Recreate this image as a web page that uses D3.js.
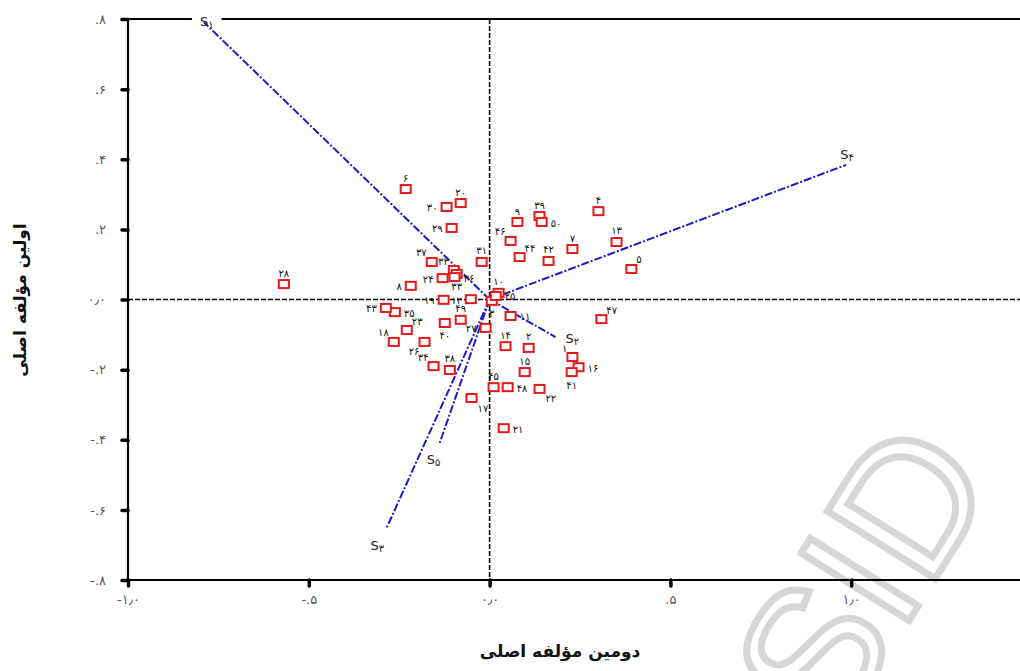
<!DOCTYPE html>
<html>
<head>
<meta charset="utf-8">
<script src="https://cdn.jsdelivr.net/npm/d3@7"></script>
<style>
body { margin: 0; background: #fff; }
text { direction: ltr; }
</style>
</head>
<body>
<div id="chart"></div>
<script>
// case labels (1..50) and their scores on the two components
var caseLabels = ['۱','۲','۳','۴','۵','۶','۷','۸','۹','۱۰',
                  '۱۱','۱۲','۱۳','۱۴','۱۵','۱۶','۱۷','۱۸','۱۹','۲۰',
                  '۲۱','۲۲','۲۳','۲۴','۲۵','۲۶','۲۷','۲۸','۲۹','۳۰',
                  '۳۱','۳۲','۳۳','۳۴','۳۵','۳۶','۳۷','۳۸','۳۹','۴۰',
                  '۴۱','۴۲','۴۳','۴۴','۴۵','۴۶','۴۷','۴۸','۴۹','۵۰'];
// second component (x)
var comp2 = [0.229, 0.108, 0.006, 0.301, 0.392, -0.232, 0.229, -0.218, 0.077, 0.025,
             0.058, -0.052, 0.351, 0.044, 0.097, 0.246, -0.050, -0.265, -0.127, -0.080,
             0.039, 0.138, -0.229, -0.130, 0.017, -0.180, -0.011, -0.569, -0.105, -0.119,
             -0.022, -0.099, -0.091, -0.155, -0.262, -0.097, -0.160, -0.110, 0.138, -0.124,
             0.227, 0.163, -0.287, 0.083, 0.011, 0.058, 0.309, 0.050, -0.080, 0.144];
// first component (y)
var comp1 = [-0.164, -0.138, -0.004, 0.252, 0.087, 0.315, 0.144, 0.039, 0.221, 0.019,
             -0.047, 0.001, 0.164, -0.133, -0.207, -0.193, -0.281, -0.121, -0.001, 0.275,
             -0.367, -0.255, -0.087, 0.061, 0.010, -0.121, -0.081, 0.044, 0.204, 0.264,
             0.107, 0.084, 0.073, -0.190, -0.036, 0.064, 0.107, -0.201, 0.238, -0.067,
             -0.207, 0.110, -0.024, 0.121, -0.250, 0.167, -0.056, -0.250, -0.058, 0.221];
// where each case label sits around its square
var labelPos = ['nw','n','s','n','ne','n','n','w','n','n',
                'e','w','n','n','n','e','se','nw','w','n',
                'e','se','ne','w','e','sw','w','n','w','w',
                'n','nw','s','nw','e','e','nw','n','n','s',
                's','n','w','ne','n','nw','ne','e','n','e'];

// variable loadings
var varNames = ['۱','۲','۳','۴','۵'];
var varComp2 = [-0.790, 0.182, -0.285, 0.986, -0.138];
var varComp1 = [0.791, -0.107, -0.652, 0.384, -0.409];
var varLabelDx = [-4, 10, -16, -6, -13];
var varLabelDy = [4, 6, 22, -6, 21];

var xTicks = [-1, -0.5, 0, 0.5, 1, 1.5];
var xTickLabels = ['-۱٫۰', '-.۵', '۰٫۰', '.۵', '۱٫۰', '۱٫۵'];
var yTicks = [0.8, 0.6, 0.4, 0.2, 0, -0.2, -0.4, -0.6, -0.8];
var yTickLabels = ['.۸', '.۶', '.۴', '.۲', '۰٫۰', '-.۲', '-.۴', '-.۶', '-.۸'];

var width = 1020, height = 671;

var svg = d3.select('#chart')
    .append('svg')
    .attr('width', width)
    .attr('height', height)
    .style('font-family', 'DejaVu Sans, sans-serif');

var x = d3.scaleLinear().domain([-1, 1.5]).range([128, 1032]);
var y = d3.scaleLinear().domain([-0.8, 0.8]).range([580, 19]);

// watermark behind everything
svg.append('text')
    .attr('transform', 'translate(862,575) rotate(-58)')
    .attr('text-anchor', 'middle')
    .attr('dominant-baseline', 'central')
    .style('font-family', 'Liberation Sans, sans-serif')
    .style('font-size', '185px')
    .attr('fill', '#fff')
    .attr('stroke', '#d6d6d6')
    .attr('stroke-width', 7)
    .text('SID');

// dashed reference lines through zero
svg.append('line')
    .attr('x1', x(-1)).attr('x2', width)
    .attr('y1', y(0)).attr('y2', y(0))
    .attr('stroke', '#000').attr('stroke-width', 1.6)
    .attr('stroke-dasharray', '5,2');
svg.append('line')
    .attr('x1', x(0)).attr('x2', x(0))
    .attr('y1', y(0.8)).attr('y2', y(-0.8))
    .attr('stroke', '#000').attr('stroke-width', 1.6)
    .attr('stroke-dasharray', '5,2');

// top frame line
svg.append('line')
    .attr('x1', x(-1)).attr('x2', width)
    .attr('y1', y(0.8)).attr('y2', y(0.8))
    .attr('stroke', '#000').attr('stroke-width', 2);

// loading vectors
var vecs = varNames.map(function(d, i) {
    return {name: d, x: varComp2[i], y: varComp1[i], dx: varLabelDx[i], dy: varLabelDy[i]};
});

svg.selectAll('.vec')
    .data(vecs)
    .enter()
    .append('line')
    .attr('class', 'vec')
    .attr('x1', x(0)).attr('y1', y(0))
    .attr('x2', function(d) { return x(d.x); })
    .attr('y2', function(d) { return y(d.y); })
    .attr('stroke', '#1a1ac8')
    .attr('stroke-width', 2)
    .attr('stroke-dasharray', '8,2,2,2');

var vlab = svg.selectAll('.vlab')
    .data(vecs)
    .enter()
    .append('text')
    .attr('class', 'vlab')
    .attr('x', function(d) { return x(d.x) + d.dx; })
    .attr('y', function(d) { return y(d.y) + d.dy; })
    .style('font-size', '13px')
    .attr('fill', '#222');
vlab.each(function(d) {
    d3.select(this).append('tspan').text('S');
    d3.select(this).append('tspan').attr('dy', 2).style('font-size', '10px').text(d.name);
});
// clear the frame line behind the S1 label
vlab.filter(function(d, i) { return i === 0; }).each(function() {
    var b = this.getBBox();
    svg.insert('rect', '.vec')
        .attr('x', b.x - 8).attr('y', b.y - 2)
        .attr('width', b.width + 16).attr('height', b.height + 2)
        .attr('fill', '#fff');
});

// case points
var pts = caseLabels.map(function(d, i) {
    return {label: d, x: comp2[i], y: comp1[i], pos: labelPos[i]};
});

svg.selectAll('.pt')
    .data(pts)
    .enter()
    .append('rect')
    .attr('class', 'pt')
    .attr('x', function(d) { return x(d.x) - 5; })
    .attr('y', function(d) { return y(d.y) - 4; })
    .attr('width', 10)
    .attr('height', 8)
    .attr('fill', '#fff')
    .attr('stroke', '#e21a1a')
    .attr('stroke-width', 2);

var off = {
    n:  [0, -11, 'middle'], s: [0, 13, 'middle'],
    w:  [-9, 1, 'end'],     e: [9, 1, 'start'],
    nw: [-5, -9, 'end'],    ne: [5, -9, 'start'],
    sw: [-5, 10, 'end'],    se: [6, 10, 'start']
};

svg.selectAll('.plab')
    .data(pts)
    .enter()
    .append('text')
    .attr('class', 'plab')
    .attr('x', function(d) { return x(d.x) + off[d.pos][0]; })
    .attr('y', function(d) { return y(d.y) + off[d.pos][1]; })
    .attr('text-anchor', function(d) { return off[d.pos][2]; })
    .attr('dominant-baseline', 'central')
    .style('font-size', '10px')
    .attr('fill', '#111')
    .text(function(d) { return d.label; });

// axes
var yAxis = d3.axisLeft(y)
    .tickValues(yTicks)
    .tickFormat(function(d, i) { return yTickLabels[i]; })
    .tickSize(6)
    .tickPadding(16);
var xAxis = d3.axisBottom(x)
    .tickValues(xTicks)
    .tickFormat(function(d, i) { return xTickLabels[i]; })
    .tickSize(6)
    .tickPadding(9);

var gy = svg.append('g')
    .attr('transform', 'translate(' + x(-1) + ',0)')
    .call(yAxis);
var gx = svg.append('g')
    .attr('transform', 'translate(0,' + y(-0.8) + ')')
    .call(xAxis);

[gx, gy].forEach(function(g) {
    g.select('.domain').attr('stroke-width', 2.2);
    g.selectAll('.tick line').attr('stroke-width', 3.5).attr('stroke-linecap', 'round');
    g.selectAll('.tick text')
        .style('font-size', '13px')
        .style('font-family', 'DejaVu Sans, sans-serif')
        .attr('fill', '#555');
});
gy.select('.domain').attr('d', 'M0,' + y(0.8) + 'V' + y(-0.8));
gx.select('.domain').attr('d', 'M' + x(-1) + ',0H' + width);

// axis titles
svg.append('text')
    .attr('x', 560)
    .attr('y', 657)
    .attr('text-anchor', 'middle')
    .style('direction', 'rtl')
    .style('font-size', '17px')
    .style('font-weight', 'bold')
    .attr('fill', '#111')
    .text('دومین مؤلفه اصلی');

svg.append('text')
    .attr('transform', 'translate(26,300) rotate(-90)')
    .attr('text-anchor', 'middle')
    .style('direction', 'rtl')
    .style('font-size', '17px')
    .style('font-weight', 'bold')
    .attr('fill', '#111')
    .text('اولین مؤلفه اصلی');
</script>
</body>
</html>
